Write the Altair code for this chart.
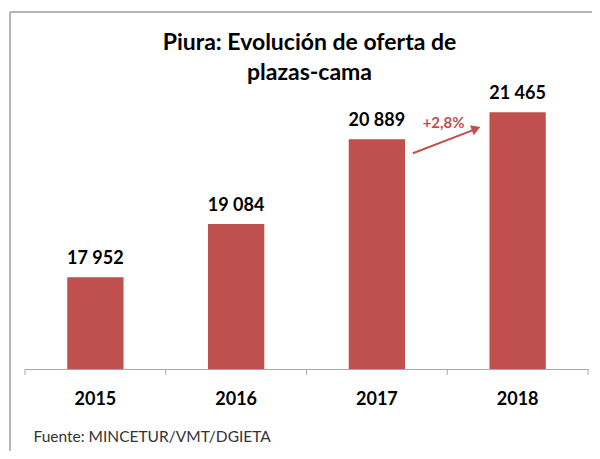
import altair as alt
import pandas as pd

# ---- data ----
years = ["2015", "2016", "2017", "2018"]
plazas = [17952, 19084, 20889, 21465]
title_lines = ["Piura: Evolución de oferta de", "plazas-cama"]
source_text = "Fuente: MINCETUR/VMT/DGIETA"
growth_from = "2017"
growth_to = "2018"
growth_label = "+2,8%"
y_domain = [16000, 22000]

# ---- layout / style ----
PLOT_W, PLOT_H = 563, 282
STEP = PLOT_W / len(years)
RED = "#C0504D"
GRAY = "#A9A9A9"
FONT = "Lato"

df = pd.DataFrame({"year": years, "value": plazas})
df["label"] = [f"{v:,}".replace(",", " ") for v in plazas]

val = dict(zip(years, plazas))
ann = pd.DataFrame({
    "from_year": [growth_from],
    "to_year": [growth_to],
    "from_val": [val[growth_from]],
    "to_val": [val[growth_to]],
    "label": [growth_label],
})

xscale = alt.Scale(domain=years, paddingInner=0.6, paddingOuter=0.3)
yscale = alt.Scale(domain=y_domain, zero=False, nice=False)


def X(field):
    return alt.X(f"{field}:N", scale=xscale, title=source_text, sort=years)


def Y(field):
    return alt.Y(f"{field}:Q", scale=yscale, axis=None)


base = alt.Chart(df)

bars = base.mark_bar(color=RED).encode(
    x=X("year"), y=Y("value"), y2=alt.datum(y_domain[0])
)

value_labels = base.mark_text(
    dy=-13, baseline="alphabetic", font=FONT, fontSize=18, fontWeight="bold", color="#000000"
).encode(x=X("year"), y=Y("value"), text="label:N")

ticks = base.mark_rule(color=GRAY, strokeWidth=1, xOffset=-STEP / 2).encode(
    x=X("year"), y=alt.value(PLOT_H), y2=alt.value(PLOT_H + 6)
)
last_tick = base.transform_filter(alt.datum.year == years[-1]).mark_rule(
    color=GRAY, strokeWidth=1, xOffset=STEP / 2
).encode(x=X("year"), y=alt.value(PLOT_H), y2=alt.value(PLOT_H + 6))

annc = alt.Chart(ann)
arrow_line = annc.mark_rule(
    color=RED, strokeWidth=2, xOffset=36, yOffset=14, x2Offset=-42, y2Offset=17
).encode(x=X("from_year"), x2="to_year:N", y=Y("from_val"), y2="to_val:Q")

arrow_head = annc.mark_point(
    shape="triangle-right", angle=340, size=110, filled=True, opacity=1,
    color=RED, xOffset=-41.5, yOffset=16.5
).encode(x=X("to_year"), y=Y("to_val"))

growth_text = annc.mark_text(
    dx=-74, dy=11, baseline="middle", font=FONT, fontSize=15, fontWeight="bold", color=RED
).encode(x=X("to_year"), y=Y("to_val"), text="label:N")

one = pd.DataFrame({"k": [0]})
frame_top = alt.Chart(one).mark_rule(color="#9E9E9E", strokeWidth=1.5).encode(
    x=alt.value(-15), x2=alt.value(PLOT_W + 20), y=alt.value(-75)
)
frame_left = alt.Chart(one).mark_rule(color="#9E9E9E", strokeWidth=1.5).encode(
    x=alt.value(-15), y=alt.value(-75), y2=alt.value(PLOT_H + 100)
)

title_text = alt.Chart(one).mark_text(
    font=FONT, fontSize=23, fontWeight="bold", color="#000000",
    lineHeight=30, align="center", baseline="alphabetic",
).encode(x=alt.value(PLOT_W / 2 + 3), y=alt.value(-37), text=alt.value(title_lines))

chart = alt.layer(
    frame_top, frame_left, title_text, bars, ticks, last_tick, value_labels,
    arrow_line, arrow_head, growth_text,
).properties(
    width=PLOT_W,
    height=PLOT_H,
    autosize=alt.AutoSizeParams(type="none"),
    padding={"left": 17, "top": 79, "right": 4, "bottom": 82},
).configure_view(stroke=None).configure_axisX(
    grid=False, ticks=False, domainColor=GRAY, domainWidth=1,
    labelFont=FONT, labelFontSize=18, labelFontWeight="bold", labelColor="#000000",
    labelAngle=0, labelPadding=21,
    titleFont=FONT, titleFontSize=15.5, titleFontWeight="normal", titleColor="#333333",
    titleX=8, titleY=72, titleAlign="left", titleBaseline="alphabetic", titleAngle=0,
)

chart.save("out.html", embed_options={"renderer": "svg", "actions": False})
